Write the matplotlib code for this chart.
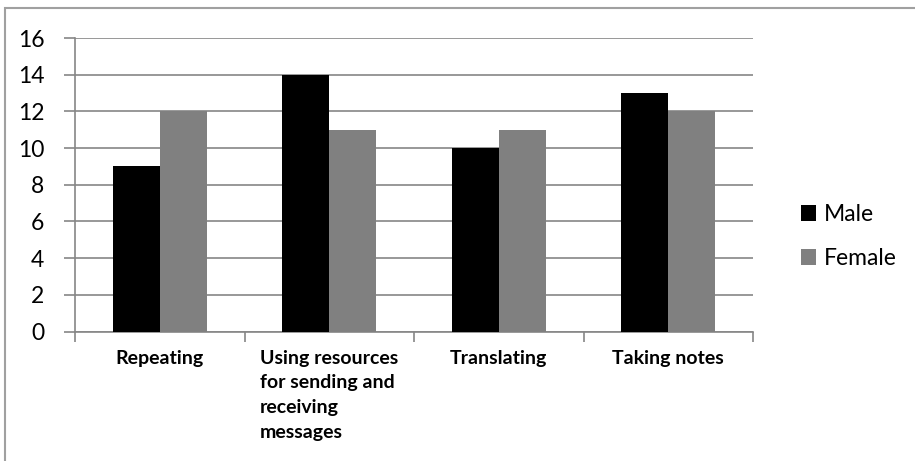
import matplotlib.pyplot as plt
from matplotlib.patches import Rectangle
import numpy as np

# data
categories = ['Repeating', 'Using resources\nfor sending and\nreceiving\nmessages', 'Translating', 'Taking notes']
male = [9, 14, 10, 13]
female = [12, 11, 11, 12]
yticks = [0, 2, 4, 6, 8, 10, 12, 14, 16]

plt.rcParams['font.family'] = ['Lato', 'DejaVu Sans']
grid_col = '#868686'

fig = plt.figure(figsize=(9.15, 4.61), dpi=100)
ax = fig.add_axes([75/915, 1-331.5/461, (753-75)/915, (331.5-38)/461])

# outer chart border (only top/left visible in the crop)
fig.patches.append(Rectangle((5/915, -0.1), 1.2, 1-8/461+0.1, transform=fig.transFigure,
                             fill=False, edgecolor='#a0a0a0', linewidth=1.5))

x = np.arange(len(categories))
w = 47/169.5
ax.bar(x-w/2, male, w, color='black', label='Male', zorder=3)
ax.bar(x+w/2, female, w, color='#808080', label='Female', zorder=3)

ax.set_xlim(-0.5, 3.5)
ax.set_ylim(0, 16)
ax.set_yticks(yticks)
ax.yaxis.grid(True, color=grid_col, linewidth=1.2, zorder=0)
ax.tick_params(axis='y', length=8, width=1.2, color=grid_col, pad=14, labelsize=16.5)

ax.set_xticks(np.arange(-0.5, 4, 1))
ax.set_xticklabels([])
ax.set_xticks(x, minor=True)
ax.set_xticklabels(categories, minor=True, fontsize=14, fontweight='bold',
                   va='top', ha='center', multialignment='left', linespacing=1.55)
ax.tick_params(axis='x', which='major', length=7, width=1.2, color=grid_col, direction='out')
ax.tick_params(axis='x', which='minor', length=0, pad=13)

for s in ['top', 'right']:
    ax.spines[s].set_visible(False)
for s in ['left', 'bottom']:
    ax.spines[s].set_color(grid_col)
    ax.spines[s].set_linewidth(1.2)

ax.legend(loc='center left', bbox_to_anchor=(792/915, 1-236.5/461), bbox_transform=fig.transFigure,
          frameon=False, fontsize=16.5, handlelength=0.66, handleheight=0.66,
          handletextpad=0.35, labelspacing=1.0, borderaxespad=0)

fig.savefig('out.png', dpi=100)
